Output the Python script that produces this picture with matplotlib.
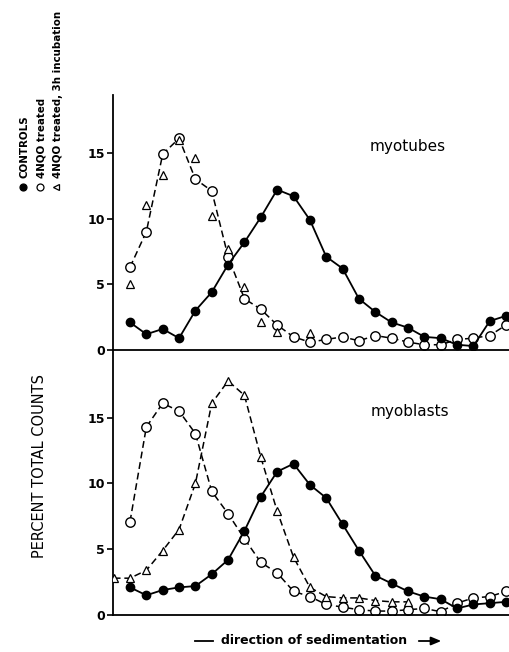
import matplotlib
matplotlib.use("Agg")
import matplotlib.pyplot as plt
import numpy as np

# fraction number along the gradient (index -1 is at the left axis)
fractions = list(range(24))

# myotubes
tubes_controls = [2.1, 1.2, 1.6, 0.9, 3.0, 4.4, 6.5, 8.2, 10.1, 12.2, 11.7, 9.9,
                  7.1, 6.2, 3.9, 2.9, 2.1, 1.7, 1.0, 0.9, 0.4, 0.3, 2.2, 2.6]
tubes_4nqo = [6.3, 9.0, 14.9, 16.1, 13.0, 12.1, 7.1, 3.9, 3.1, 1.9, 1.0, 0.6,
              0.8, 1.0, 0.7, 1.1, 0.9, 0.6, 0.4, 0.4, 0.8, 0.9, 1.1, 1.9]
tubes_inc_idx = [0, 1, 2, 3, 4, 5, 6, 7, 8, 9, 11]
tubes_inc = [5.0, 11.0, 13.3, 16.0, 14.6, 10.2, 7.7, 4.8, 2.1, 1.4, 1.3]

# myoblasts
blasts_controls = [2.1, 1.5, 1.9, 2.1, 2.2, 3.1, 4.2, 6.4, 9.0, 10.9, 11.5, 9.9,
                   8.9, 6.9, 4.9, 3.0, 2.4, 1.8, 1.4, 1.2, 0.5, 0.8, 0.9, 1.0]
blasts_4nqo = [7.1, 14.3, 16.1, 15.5, 13.8, 9.4, 7.7, 5.8, 4.0, 3.2, 1.8, 1.4,
               0.8, 0.6, 0.4, 0.3, 0.3, 0.4, 0.5, 0.25, 0.9, 1.3, 1.4, 1.8]
blasts_inc_idx = list(range(-1, 18))
blasts_inc = [2.8, 2.8, 3.4, 4.9, 6.5, 10.0, 16.1, 17.8, 16.7, 12.0, 7.9, 4.4,
              2.1, 1.4, 1.3, 1.3, 1.1, 1.0, 1.0]

yticks = [0, 5, 10, 15]

W, H = 510, 652
fig = plt.figure(figsize=(W / 100, H / 100), dpi=100)
ax1 = fig.add_axes([113 / W, 1 - 350 / H, 397 / W, 255 / H])
ax2 = fig.add_axes([113 / W, 1 - 615 / H, 397 / W, 265 / H])

filled = dict(color='black', lw=1.3, marker='o', ms=6, mfc='black', mec='black')
opencirc = dict(color='black', lw=1.1, ls=(0, (4.5, 2.5)), marker='o', ms=6.8,
                mfc='white', mec='black', mew=1.0)
opentri = dict(color='black', lw=1.1, ls=(0, (4.5, 2.5)), marker='^', ms=5.5,
               mfc='white', mec='black', mew=0.9)

# myotubes panel
ax1.plot(fractions, tubes_4nqo, zorder=2, **opencirc)
ax1.plot(tubes_inc_idx, tubes_inc, **dict(opentri, ls='none'), zorder=3)
ax1.plot(fractions, tubes_controls, zorder=4, **filled)
ax1.text(17, 15.5, 'myotubes', ha='center', va='center', fontsize=11)
ax1.set_ylim(0, 19.4)

# myoblasts panel
ax2.plot(fractions, blasts_4nqo, zorder=2, **opencirc)
ax2.plot(blasts_inc_idx, blasts_inc, zorder=3, **opentri)
ax2.plot(fractions, blasts_controls, zorder=4, **filled)
ax2.text(17.1, 15.5, 'myoblasts', ha='center', va='center', fontsize=11)
ax2.set_ylim(0, 20.15)

for ax in (ax1, ax2):
    ax.set_xlim(-1.04, 23.24)
    ax.set_yticks(yticks)
    ax.set_yticklabels([str(t) for t in yticks], fontsize=9, fontweight='bold')
    ax.set_xticks([])
    ax.spines['top'].set_visible(False)
    ax.spines['right'].set_visible(False)
    ax.spines['left'].set_linewidth(1.3)
    ax.spines['bottom'].set_linewidth(1.3)
    ax.tick_params(axis='y', direction='out', length=4, width=1.2, pad=2)
    ax.patch.set_alpha(0)

fig.text(40 / W, 1 - 466 / H, 'PERCENT TOTAL COUNTS', rotation=90,
         ha='center', va='center', fontsize=10.5)

# legend written vertically at top left
leg_labels = ['CONTROLS', '4NQO treated', '4NQO treated, 3h incubation']
leg_marks = [dict(marker='o', mfc='black'), dict(marker='o', mfc='white'),
             dict(marker='<', mfc='white')]
leg_x = [25, 42, 58]
for lx, lab, mk in zip(leg_x, leg_labels, leg_marks):
    fig.text(lx / W, 1 - 178 / H, lab, rotation=90, ha='center', va='bottom',
             fontsize=7.4, fontweight='bold')
    fig.lines.append(plt.Line2D([(lx - 2) / W], [1 - 187 / H], transform=fig.transFigure,
                                ls='none', mec='black', ms=5, mew=0.9, **mk))

# x label with arrow
fig.text(314 / W, 1 - 641 / H, 'direction of sedimentation', ha='center',
         va='center', fontsize=9, fontweight='bold')
fig.lines.append(plt.Line2D([195 / W, 213 / W], [1 - 641 / H, 1 - 641 / H],
                            transform=fig.transFigure, color='black', lw=1.3))
fig.patches.append(matplotlib.patches.FancyArrowPatch(
    (416 / W, 1 - 641 / H), (444 / W, 1 - 641 / H), transform=fig.transFigure,
    arrowstyle='-|>,head_length=6,head_width=2.5', color='black', lw=1.3))

fig.savefig('out.png', dpi=100)
